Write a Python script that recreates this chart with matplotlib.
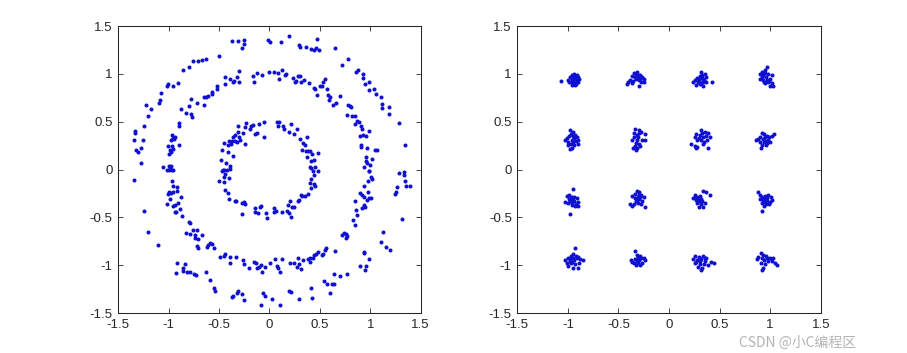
import numpy as np
import matplotlib
matplotlib.use("Agg")
import matplotlib.pyplot as plt
from matplotlib.ticker import FuncFormatter

# left panel: three noisy rings
ring_inner = [
    (-0.05, 0.50), (-0.10, 0.48), (-0.16, 0.47), (-0.23, 0.49), (-0.18, 0.45), (-0.19, 0.42),
    (-0.24, 0.44), (-0.31, 0.46), (-0.26, 0.38), (-0.31, 0.39), (-0.34, 0.36), (-0.36, 0.34),
    (-0.37, 0.30), (-0.38, 0.27), (-0.40, 0.30), (-0.34, 0.30), (-0.29, 0.31), (-0.32, 0.29),
    (-0.30, 0.34), (-0.24, 0.27), (-0.14, 0.37), (-0.12, 0.38), (-0.05, 0.34), (-0.41, 0.26),
    (-0.45, 0.28), (-0.41, 0.18), (-0.36, 0.14), (-0.47, 0.20), (-0.48, 0.10), (-0.43, 0.07),
    (-0.39, 0.04), (-0.39, 0.01), (-0.42, -0.01), (-0.45, -0.01),
    (0.07, 0.50), (0.09, 0.50), (0.08, 0.45), (0.13, 0.45), (0.14, 0.42), (0.21, 0.48),
    (0.19, 0.39), (0.24, 0.37), (0.27, 0.42), (0.37, 0.34), (0.30, 0.32), (0.33, 0.28),
    (0.35, 0.26), (0.32, 0.20), (0.36, 0.19), (0.38, 0.19), (0.40, 0.19), (0.48, 0.17),
    (0.42, 0.16), (0.37, 0.13), (0.41, 0.09), (0.44, 0.10), (0.40, 0.03), (0.41, 0.02),
    (0.45, 0.03), (0.48, -0.02), (0.43, -0.02),
    (-0.46, 0.00), (-0.47, -0.02), (-0.44, -0.05), (-0.45, -0.08), (-0.50, -0.12), (-0.45, -0.13),
    (-0.40, -0.09), (-0.44, -0.21), (-0.41, -0.25), (-0.40, -0.31), (-0.34, -0.33), (-0.33, -0.33),
    (-0.27, -0.35), (-0.25, -0.34), (-0.24, -0.36), (-0.27, -0.46), (-0.14, -0.44), (-0.14, -0.40),
    (-0.09, -0.39), (-0.11, -0.45), (-0.08, -0.38), (-0.03, -0.45), (-0.02, -0.51),
    (0.04, -0.40), (0.04, -0.44), (0.06, -0.43), (0.12, -0.44), (0.17, -0.43), (0.19, -0.45),
    (0.21, -0.50), (0.22, -0.39), (0.24, -0.39), (0.18, -0.37), (0.20, -0.33), (0.28, -0.33),
    (0.29, -0.32), (0.32, -0.28), (0.31, -0.27), (0.35, -0.28), (0.38, -0.26), (0.41, -0.19),
    (0.40, -0.14), (0.44, -0.15), (0.45, -0.17), (0.41, -0.10), (0.44, -0.06),
]

ring_middle = [
    (-0.30, 1.03), (-0.32, 0.97), (-0.35, 0.93), (-0.36, 0.91), (-0.39, 0.95), (-0.44, 0.97),
    (-0.44, 0.89), (-0.30, 0.92), (-0.52, 0.87), (-0.52, 0.84), (-0.57, 0.81), (-0.57, 0.79),
    (-0.61, 0.77), (-0.63, 0.76), (-0.65, 0.76), (-0.65, 0.67), (-0.72, 0.70), (-0.78, 0.74),
    (-0.80, 0.66), (-0.88, 0.63), (-0.83, 0.59), (-0.78, 0.58), (-0.77, 0.55), (-0.90, 0.49),
    (-0.90, 0.45), (-0.97, 0.36), (-0.96, 0.33), (-0.95, 0.32), (-0.94, 0.34), (-0.98, 0.31),
    (-1.01, 0.25), (-0.97, 0.25), (-0.96, 0.21), (-0.99, 0.20), (-0.98, 0.18), (-1.00, 0.16),
    (-0.90, 0.26), (-0.98, 0.04), (-1.00, 0.04), (-1.06, 0.03), (-1.02, 0.00), (-0.97, -0.01),
    (-0.12, 1.01), (-0.07, 0.99), (-0.16, 0.98), (-0.15, 0.92), (0.00, 1.02),
    (0.04, 1.02), (0.08, 1.01), (0.09, 0.95), (0.12, 1.04), (0.15, 0.99), (0.16, 1.00),
    (0.23, 0.96), (0.25, 0.91), (0.26, 0.93), (0.28, 0.98), (0.30, 0.98), (0.31, 0.91),
    (0.34, 0.94), (0.39, 0.90), (0.44, 0.85), (0.45, 0.84), (0.47, 0.78), (0.50, 0.87),
    (0.52, 0.87), (0.53, 0.91), (0.55, 0.95), (0.57, 0.84), (0.58, 0.78), (0.60, 0.76),
    (0.59, 0.73), (0.63, 0.67), (0.66, 0.70), (0.70, 0.77), (0.78, 0.67), (0.80, 0.66),
    (0.81, 0.65), (0.77, 0.57), (0.82, 0.56), (0.85, 0.56), (0.87, 0.51), (0.89, 0.50),
    (0.85, 0.48), (0.91, 0.45), (0.92, 0.42), (0.99, 0.40), (0.90, 0.35), (0.93, 0.36),
    (0.96, 0.35), (0.91, 0.26), (0.91, 0.24), (0.97, 0.23), (1.07, 0.20), (1.05, 0.20),
    (0.96, 0.13), (0.96, 0.09), (0.97, 0.07), (1.00, 0.05), (1.02, 0.11), (0.99, -0.02),
    (0.94, 0.03),
    (-0.99, 0.02), (-1.00, -0.01), (-0.96, -0.01), (-0.97, -0.12), (-0.96, -0.17), (-0.92, -0.18),
    (-0.92, -0.22), (-1.01, -0.26), (-1.00, -0.24), (-0.98, -0.25), (-0.96, -0.23), (-0.99, -0.31),
    (-1.02, -0.36), (-0.96, -0.38), (-0.94, -0.37), (-0.91, -0.35), (-0.88, -0.29), (-0.93, -0.44),
    (-0.89, -0.41), (-0.94, -0.44), (-0.87, -0.49), (-0.80, -0.55), (-0.79, -0.56), (-0.76, -0.63),
    (-0.83, -0.66), (-0.79, -0.67), (-0.74, -0.68), (-0.72, -0.63), (-0.67, -0.68), (-0.74, -0.72),
    (-0.71, -0.73), (-0.72, -0.80), (-0.71, -0.82), (-0.61, -0.79), (-0.59, -0.77), (-0.57, -0.78),
    (-0.62, -0.81), (-0.55, -0.82), (-0.49, -0.91), (-0.45, -0.90), (-0.44, -0.88), (-0.39, -0.91),
    (-0.39, -0.98), (-0.33, -0.91), (-0.26, -0.95), (-0.25, -0.99), (-0.20, -1.03), (-0.15, -0.97),
    (-0.13, -0.98), (-0.10, -1.02), (-0.08, -1.00), (-0.12, -1.03), (-0.07, -1.07), (-0.04, -1.02),
    (0.01, -0.98),
    (0.99, -0.02), (1.01, -0.08), (1.02, -0.10), (0.98, -0.12), (0.94, -0.17), (0.90, -0.25),
    (0.92, -0.27), (0.98, -0.23), (0.94, -0.29), (0.97, -0.32), (1.01, -0.30), (0.99, -0.30),
    (0.85, -0.33), (0.86, -0.42), (0.87, -0.48), (0.83, -0.53), (0.85, -0.58), (0.94, -0.37),
    (0.95, -0.39), (0.92, -0.40), (0.72, -0.68), (0.74, -0.66), (0.76, -0.67), (0.76, -0.72),
    (0.77, -0.70), (0.65, -0.85), (0.56, -0.82), (0.55, -0.84), (0.53, -0.88), (0.52, -0.89),
    (0.48, -0.86), (0.46, -0.88), (0.44, -0.89), (0.43, -0.92), (0.40, -0.93), (0.38, -0.94),
    (0.40, -0.97), (0.33, -0.95), (0.29, -0.99), (0.28, -0.93), (0.27, -1.02), (0.24, -0.98),
    (0.20, -0.98), (0.31, -1.04), (0.12, -0.94), (0.05, -0.94), (0.07, -1.01), (0.08, -1.03),
    (0.10, -1.07),
]

ring_outer = [
    (-0.37, 1.34), (-0.31, 1.34), (-0.25, 1.35), (-0.27, 1.27), (-0.25, 1.31), (-0.01, 1.35),
    (0.01, 1.33), (-0.50, 1.19), (-0.63, 1.15), (-0.67, 1.14), (-0.71, 1.13), (-0.76, 1.13),
    (-0.80, 1.07), (-0.86, 1.04), (-0.91, 0.90), (-0.96, 0.87), (-1.01, 0.89), (-1.02, 0.87),
    (-1.08, 0.80), (-1.09, 0.73), (-1.10, 0.70), (-1.18, 0.63), (-1.22, 0.67), (-1.21, 0.56),
    (-1.24, 0.45), (-1.33, 0.40), (-1.33, 0.38), (-1.34, 0.31), (-1.25, 0.31), (-1.27, 0.22),
    (-1.32, 0.20), (-1.30, 0.18), (-1.27, 0.07),
    (0.11, 1.33), (0.19, 1.40), (0.29, 1.30), (0.30, 1.28), (0.36, 1.28), (0.41, 1.26),
    (0.44, 1.25), (0.46, 1.27), (0.47, 1.36), (0.49, 1.25), (0.65, 1.27), (0.78, 1.16),
    (0.72, 1.09), (0.86, 1.02), (0.88, 1.04), (0.93, 1.00), (0.93, 0.96), (0.99, 0.91),
    (0.95, 0.89), (0.99, 0.83), (1.04, 0.84), (1.06, 0.79), (1.11, 0.76), (1.12, 0.69),
    (1.12, 0.64), (1.19, 0.65), (1.19, 0.58), (1.29, 0.49), (1.34, 0.26),
    (-1.34, -0.11), (-1.24, -0.43), (-1.21, -0.65), (-1.11, -0.79), (-0.92, -0.98), (-0.93, -1.08),
    (-0.84, -0.99), (-0.86, -1.03), (-0.86, -1.06), (-0.82, -1.07), (-0.79, -1.07), (-0.75, -1.09),
    (-0.73, -1.10), (-0.63, -1.07), (-0.59, -1.16), (-0.55, -1.24), (-0.54, -1.27), (-0.37, -1.33),
    (-0.36, -1.32), (-0.32, -1.29), (-0.31, -1.27), (-0.27, -1.30), (-0.25, -1.36), (-0.08, -1.42),
    (-0.06, -1.29), (-0.04, -1.32),
    (1.33, -0.03), (1.29, -0.04), (1.33, -0.06), (1.34, -0.12), (1.39, -0.17), (1.35, -0.17),
    (1.27, -0.18), (1.26, -0.23), (1.25, -0.26), (1.31, -0.52), (1.13, -0.65), (1.11, -0.76),
    (1.16, -0.81), (1.20, -0.84), (0.94, -0.86), (0.94, -0.87), (0.99, -0.94), (0.90, -1.01),
    (0.96, -1.01), (0.95, -1.05), (0.77, -1.09), (0.70, -1.11), (0.64, -1.09), (0.54, -1.17),
    (0.57, -1.20), (0.62, -1.20), (0.64, -1.20), (0.60, -1.29), (0.41, -1.24), (0.42, -1.34),
    (0.29, -1.35), (0.10, -1.42), (0.03, -1.35), (0.21, -1.28), (0.19, -1.27),
]

# right panel: 16-QAM constellation, one list per row of clusters
qam_row1 = [
    (-1.07, 0.93), (-1.00, 0.94), (-0.98, 0.97), (-0.96, 0.99), (-0.94, 1.00), (-0.91, 0.99),
    (-0.90, 0.97), (-0.89, 0.95), (-0.90, 0.92), (-0.93, 0.90), (-0.96, 0.88), (-0.93, 0.88),
    (-0.97, 0.92), (-0.95, 0.94), (-0.92, 0.95), (-0.91, 0.93), (-0.99, 0.91), (-0.94, 0.97),
    (-0.95, 0.91), (-0.92, 0.89), (-0.96, 0.95), (-0.93, 0.97),
    (-0.35, 1.01), (-0.32, 1.00), (-0.29, 0.99), (-0.27, 0.97), (-0.25, 0.95), (-0.30, 0.94),
    (-0.33, 0.95), (-0.37, 0.98), (-0.39, 0.94), (-0.41, 0.92), (-0.42, 0.89), (-0.37, 0.90),
    (-0.28, 0.91), (-0.25, 0.92), (-0.30, 0.87), (-0.34, 0.97), (-0.31, 0.97), (-0.36, 0.93),
    (-0.29, 0.95), (-0.32, 1.02), (-0.33, 0.99),
    (0.32, 1.02), (0.36, 1.00), (0.37, 0.97), (0.34, 0.95), (0.31, 0.98), (0.28, 0.96),
    (0.26, 0.94), (0.24, 0.91), (0.27, 0.88), (0.31, 0.89), (0.34, 0.91), (0.37, 0.92),
    (0.42, 0.91), (0.34, 0.87), (0.30, 0.93), (0.33, 0.96), (0.29, 0.91), (0.35, 0.94),
    (0.32, 0.90), (0.33, 0.99), (0.30, 0.95),
    (0.97, 1.07), (0.95, 1.04), (0.92, 1.02), (0.90, 1.00), (0.93, 0.99), (0.98, 1.00),
    (1.02, 0.99), (1.00, 0.95), (0.97, 0.94), (0.93, 0.94), (0.92, 0.97), (0.98, 0.91),
    (1.02, 0.90), (1.03, 0.87), (1.00, 0.87), (0.95, 0.90), (0.90, 0.95), (0.96, 0.97),
    (0.94, 0.92), (0.99, 0.93), (0.95, 1.01),
]

qam_row2 = [
    (-0.98, 0.41), (-0.95, 0.39), (-0.93, 0.36), (-0.91, 0.34), (-0.90, 0.31), (-0.90, 0.27),
    (-0.94, 0.26), (-0.96, 0.23), (-0.98, 0.21), (-1.00, 0.26), (-1.03, 0.31), (-1.01, 0.33),
    (-0.99, 0.35), (-0.96, 0.31), (-0.95, 0.29), (-0.92, 0.30), (-1.00, 0.29), (-0.97, 0.27),
    (-0.94, 0.33), (-0.97, 0.37), (-0.95, 0.35),
    (-0.34, 0.42), (-0.30, 0.41), (-0.28, 0.39), (-0.24, 0.37), (-0.32, 0.36), (-0.35, 0.34),
    (-0.37, 0.31), (-0.32, 0.31), (-0.27, 0.31), (-0.24, 0.31), (-0.30, 0.27), (-0.34, 0.25),
    (-0.36, 0.23), (-0.32, 0.22), (-0.33, 0.20), (-0.29, 0.25), (-0.31, 0.34), (-0.33, 0.28),
    (-0.35, 0.38), (-0.30, 0.38),
    (0.32, 0.41), (0.36, 0.39), (0.39, 0.38), (0.37, 0.35), (0.34, 0.34), (0.31, 0.36),
    (0.27, 0.37), (0.26, 0.34), (0.28, 0.31), (0.32, 0.31), (0.35, 0.29), (0.38, 0.31),
    (0.40, 0.34), (0.22, 0.27), (0.26, 0.25), (0.28, 0.24), (0.27, 0.22), (0.39, 0.22),
    (0.34, 0.27), (0.30, 0.33), (0.33, 0.38),
    (0.92, 0.38), (0.94, 0.37), (0.97, 0.35), (0.99, 0.34), (1.02, 0.35), (1.04, 0.37),
    (0.88, 0.32), (0.86, 0.31), (0.90, 0.29), (0.94, 0.29), (0.98, 0.31), (1.00, 0.29),
    (0.92, 0.26), (0.96, 0.26), (0.91, 0.23), (0.93, 0.32), (0.95, 0.30), (0.90, 0.34),
    (0.97, 0.28), (0.95, 0.34),
]

qam_row3 = [
    (-0.95, -0.20), (-0.98, -0.46), (-1.01, -0.28), (-0.99, -0.27), (-0.96, -0.29), (-0.94, -0.29),
    (-0.91, -0.30), (-0.95, -0.32), (-0.98, -0.33), (-1.03, -0.34), (-1.00, -0.35), (-0.96, -0.35),
    (-0.92, -0.36), (-0.90, -0.38), (-0.93, -0.38), (-0.96, -0.37), (-0.97, -0.30), (-0.90, -0.34),
    (-0.94, -0.33), (-0.99, -0.31),
    (-0.32, -0.22), (-0.30, -0.24), (-0.34, -0.26), (-0.28, -0.27), (-0.37, -0.28), (-0.31, -0.29),
    (-0.25, -0.29), (-0.34, -0.30), (-0.30, -0.31), (-0.27, -0.33), (-0.39, -0.36), (-0.35, -0.36),
    (-0.31, -0.35), (-0.28, -0.36), (-0.24, -0.39), (-0.37, -0.38), (-0.33, -0.33), (-0.29, -0.29),
    (-0.32, -0.32), (-0.30, -0.27),
    (0.34, -0.22), (0.37, -0.24), (0.40, -0.27), (0.26, -0.27), (0.28, -0.29), (0.31, -0.28),
    (0.24, -0.30), (0.27, -0.32), (0.30, -0.33), (0.32, -0.31), (0.28, -0.35), (0.32, -0.36),
    (0.30, -0.39), (0.34, -0.39), (0.36, -0.35), (0.29, -0.31), (0.33, -0.33), (0.27, -0.30),
    (0.30, -0.30),
    (0.88, -0.24), (0.90, -0.27), (0.92, -0.29), (0.95, -0.28), (0.98, -0.27), (1.01, -0.29),
    (1.02, -0.32), (1.00, -0.34), (0.97, -0.33), (0.93, -0.32), (0.90, -0.31), (0.92, -0.35),
    (0.96, -0.36), (0.99, -0.36), (0.94, -0.38), (0.92, -0.43), (0.95, -0.31), (0.97, -0.30),
    (0.94, -0.34),
]

qam_row4 = [
    (-0.93, -0.82), (-0.95, -0.88), (-0.97, -0.90), (-0.92, -0.90), (-0.90, -0.91), (-1.00, -0.93),
    (-1.03, -0.95), (-0.98, -0.94), (-0.94, -0.95), (-0.88, -0.94), (-0.85, -0.95), (-1.01, -0.98),
    (-0.97, -0.98), (-0.93, -0.99), (-0.89, -0.98), (-1.00, -1.01), (-0.95, -1.03), (-0.90, -1.03),
    (-0.96, -0.97), (-0.91, -0.93), (-0.95, -0.93), (-0.98, -0.96),
    (-0.34, -0.85), (-0.32, -0.89), (-0.29, -0.90), (-0.25, -0.93), (-0.38, -0.95), (-0.34, -0.94),
    (-0.30, -0.95), (-0.24, -0.95), (-0.35, -0.98), (-0.31, -0.98), (-0.27, -0.98), (-0.33, -1.00),
    (-0.29, -1.00), (-0.37, -0.97), (-0.32, -0.96), (-0.28, -0.93), (-0.31, -0.92),
    (0.26, -0.90), (0.30, -0.91), (0.34, -0.90), (0.37, -0.92), (0.24, -0.94), (0.28, -0.95),
    (0.32, -0.94), (0.36, -0.96), (0.41, -0.97), (0.44, -0.98), (0.26, -0.98), (0.31, -0.99),
    (0.35, -0.99), (0.39, -1.00), (0.29, -1.02), (0.33, -1.03), (0.32, -1.05), (0.27, -0.97),
    (0.36, -0.93), (0.31, -0.96),
    (0.91, -0.87), (0.93, -0.89), (0.96, -0.90), (0.88, -0.91), (0.92, -0.92), (0.97, -0.93),
    (1.00, -0.92), (1.03, -0.93), (0.87, -0.94), (0.94, -0.95), (0.98, -0.96), (1.02, -0.96),
    (1.05, -0.98), (1.07, -1.00), (0.91, -0.98), (0.95, -0.99), (0.93, -1.03), (0.92, -1.05),
]

tick_vals = [-1.5, -1, -0.5, 0, 0.5, 1, 1.5]

plt.rcParams['font.family'] = ['Liberation Sans', 'DejaVu Sans']
plt.rcParams['axes.unicode_minus'] = False

dot_color = '#1010d0'
axis_color = '#262626'


def style_axes(ax):
    ax.set_xlim(-1.5, 1.5)
    ax.set_ylim(-1.5, 1.5)
    ax.set_xticks(tick_vals)
    ax.set_yticks(tick_vals)
    fmt = FuncFormatter(lambda v, p: '%g' % v)
    ax.xaxis.set_major_formatter(fmt)
    ax.yaxis.set_major_formatter(fmt)
    ax.tick_params(direction='in', top=True, right=True, length=3.5, width=0.6,
                   labelsize=9.5, colors=axis_color, pad=4)
    for sp in ax.spines.values():
        sp.set_color(axis_color)
        sp.set_linewidth(0.75)


def draw_points(ax, pts):
    arr = np.array(pts)
    ax.plot(arr[:, 0], arr[:, 1], 'o', color=dot_color, markersize=2.9,
            markeredgewidth=0, linestyle='none')


fig = plt.figure(figsize=(9.07, 3.53), dpi=100)
ax1 = fig.add_axes([0.1304, 0.1133, 0.3334, 0.813])
ax2 = fig.add_axes([0.5704, 0.1133, 0.3345, 0.813])

for ring in (ring_inner, ring_middle, ring_outer):
    draw_points(ax1, ring)
for row in (qam_row1, qam_row2, qam_row3, qam_row4):
    draw_points(ax2, row)

style_axes(ax1)
style_axes(ax2)

# faint site watermark in the corner, kept just under the tick labels
fig.text(0.815, 0.028, 'CSDN @小C编程区', fontsize=10, color='#b4b4b4',
         family=['Noto Sans CJK SC', 'DejaVu Sans'], va='center')

fig.savefig('out.png', dpi=100)
